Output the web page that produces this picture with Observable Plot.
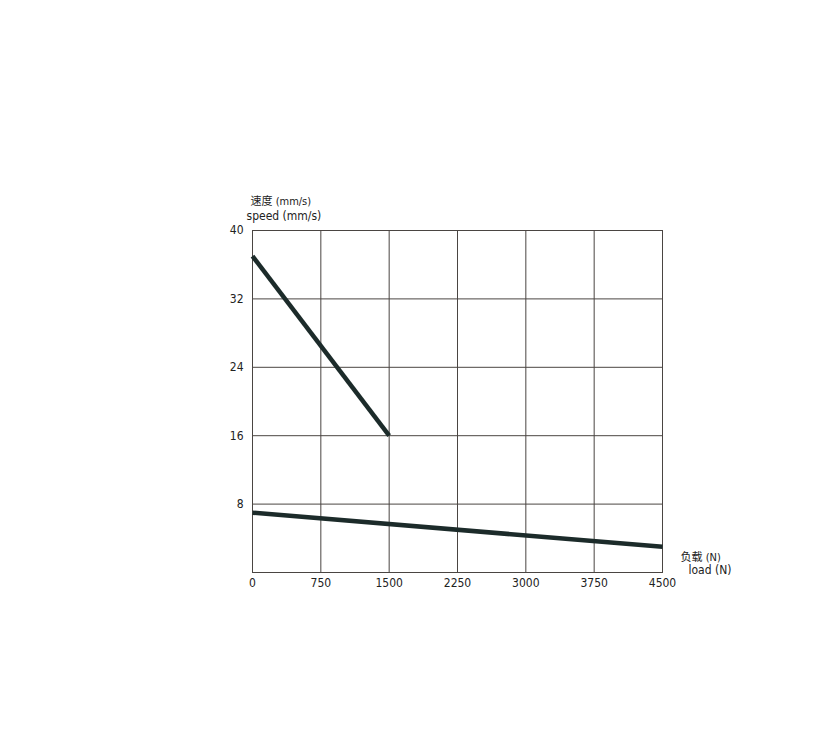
<!DOCTYPE html>
<html>
<head>
<meta charset="utf-8">
<script src="https://cdn.jsdelivr.net/npm/d3@7"></script>
<script src="https://cdn.jsdelivr.net/npm/@observablehq/plot@0.6"></script>
<style>
html,body{margin:0;padding:0;background:#fff;}
</style>
</head>
<body>
<div id="chart"></div>
<script>
const loadA = [0, 1500];
const speedA = [37, 16];
const loadB = [0, 4500];
const speedB = [7, 3];
const xTicks = [0, 750, 1500, 2250, 3000, 3750, 4500];
const yTicks = [8, 16, 24, 32, 40];
const yLabelZh = "速度 (mm/s)";
const yLabelEn = "speed (mm/s)";
const xLabelZh = "负载 (N)";
const xLabelEn = "load (N)";

const lineA = loadA.map((l, i) => ({load: l, speed: speedA[i]}));
const lineB = loadB.map((l, i) => ({load: l, speed: speedB[i]}));

const gridColor = "#4a4542";
const lineColor = "#1c2b2a";

const chart = Plot.plot({
  width: 839,
  height: 756,
  marginLeft: 252,
  marginRight: 177,
  marginTop: 230,
  marginBottom: 184,
  style: {fontSize: "12px", fontFamily: "'Liberation Sans Narrow','DejaVu Sans Condensed','DejaVu Sans','Noto Sans CJK SC',sans-serif", color: "#222"},
  x: {domain: [0, 4500]},
  y: {domain: [0, 40]},
  marks: [
    Plot.gridX(xTicks, {stroke: gridColor, strokeOpacity: 1, strokeWidth: 1}),
    Plot.gridY(yTicks, {stroke: gridColor, strokeOpacity: 1, strokeWidth: 1}),
    Plot.frame({stroke: gridColor, strokeWidth: 1}),
    Plot.axisX({ticks: xTicks, tickFormat: d3.format("d"), tickSize: 0, tickPadding: 6, label: null, fill: "#222"}),
    Plot.axisY({ticks: yTicks, tickFormat: d3.format("d"), tickSize: 0, tickPadding: 9, label: null, fill: "#222"}),
    Plot.line(lineA, {x: "load", y: "speed", stroke: lineColor, strokeWidth: 4.5, strokeLinecap: "butt"}),
    Plot.line(lineB, {x: "load", y: "speed", stroke: lineColor, strokeWidth: 4.5, strokeLinecap: "butt"}),
    Plot.text([yLabelZh], {frameAnchor: "top-left", dx: -2, dy: -33, fontSize: 11, textAnchor: "start", fill: "#222"}),
    Plot.text([yLabelEn], {frameAnchor: "top-left", dx: -6, dy: -19, fontSize: 12, textAnchor: "start", fill: "#222"}),
    Plot.text([xLabelZh], {frameAnchor: "bottom-right", dx: 18, dy: -12, fontSize: 11, textAnchor: "start", fill: "#222"}),
    Plot.text([xLabelEn], {frameAnchor: "bottom-right", dx: 26, dy: 1, fontSize: 12, textAnchor: "start", fill: "#222"})
  ]
});
document.getElementById("chart").appendChild(chart);
</script>
</body>
</html>
